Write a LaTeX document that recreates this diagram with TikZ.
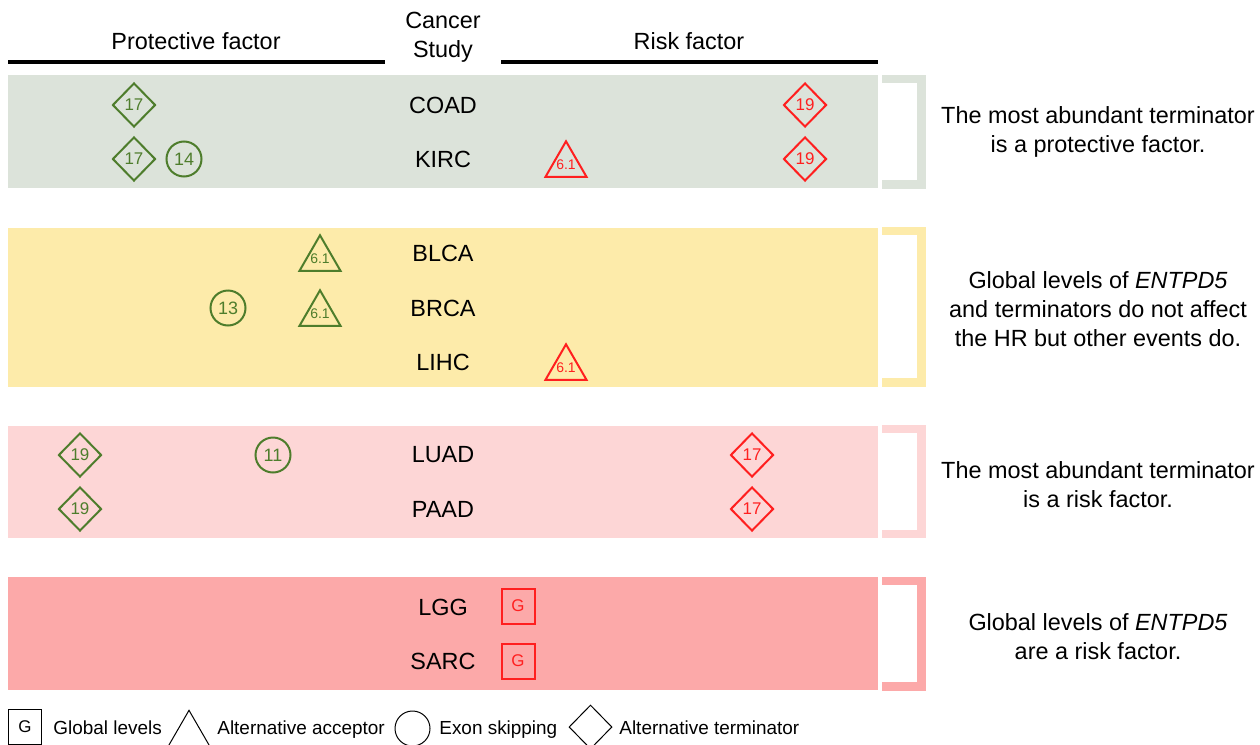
\documentclass[tikz,border=0pt]{standalone}
\usepackage{fontspec}
\setmainfont{Liberation Sans}
\usepackage{tikz}
\usetikzlibrary{shapes.geometric}
\definecolor{bandgreen}{HTML}{DCE3DA}
\definecolor{bandyellow}{HTML}{FDEBAA}
\definecolor{bandpink}{HTML}{FDD6D6}
\definecolor{bandsalmon}{HTML}{FCA9A9}
\definecolor{protgreen}{HTML}{4E7D2C}
\definecolor{riskred}{HTML}{FF1F1F}
% text that does not widen the triangles
\newcommand{\acclab}[1]{\smash{\makebox[0pt]{\raisebox{-0.5\height}{#1}}}}
\tikzset{
  every node/.style={font=\fontsize{11.75}{14.5}\selectfont},
  termshape/.style={diamond, draw, line width=1bp, inner sep=0pt, minimum width=21.5bp, minimum height=22bp, font=\fontsize{8.5}{10}\selectfont},
  skipshape/.style={circle, draw, line width=1bp, inner sep=0pt, minimum size=17.5bp, font=\fontsize{9}{10}\selectfont},
  accshape/.style={regular polygon, regular polygon sides=3, draw, line width=1bp, inner sep=0pt, minimum size=23.7bp, font=\fontsize{7}{8}\selectfont},
  globshape/.style={rectangle, draw, line width=1bp, inner sep=0pt, minimum width=16.5bp, minimum height=17.5bp, font=\fontsize{8.5}{10}\selectfont},
  prot/.style={draw=protgreen, text=protgreen},
  risk/.style={draw=riskred, text=riskred},
  legshape/.style={draw=black, text=black, line width=0.5bp},
  legtext/.style={anchor=base west, inner sep=0pt, font=\fontsize{9.5}{11}\selectfont},
  note/.style={align=center},
}
\begin{document}
\begin{tikzpicture}[x=0.5bp, y=-0.5bp]
      \def\cx{443}
      \def\bl{8}
      \def\br{878}
      \clip[use as bounding box] (0,0) rectangle (1260,744);
      % Draw the bands
      \fill[bandgreen] (\bl,75) rectangle (\br,188);
      \fill[bandyellow] (\bl,228) rectangle (\br,387);
      \fill[bandpink] (\bl,426) rectangle (\br,538);
      \fill[bandsalmon] (\bl,577) rectangle (\br,690);
      % Draw the brackets
      \fill[bandgreen] (882,75) rectangle (926,189);
      \fill[white] (882,83) rectangle (917,180);
      \fill[bandyellow] (882,227) rectangle (926,387);
      \fill[white] (882,235) rectangle (917,378);
      \fill[bandpink] (882,425) rectangle (926,538);
      \fill[white] (882,433) rectangle (917,530);
      \fill[bandsalmon] (882,577) rectangle (926,691);
      \fill[white] (882,585) rectangle (917,682);
      % Headers
      \node (prot) at (196,41) {Protective factor};
      \node[note] (study) at (\cx,37) {Cancer\\Study};
      \node (risk) at (689,41) {Risk factor};
      \draw[line width=2bp] (\bl,62) -- (385,62);
      \draw[line width=2bp] (501,62) -- (\br,62);
      % Cancer studies
      \node (coad) at (\cx,105) {COAD};
      \node (kirc) at (\cx,159) {KIRC};
      \node (blca) at (\cx,253) {BLCA};
      \node (brca) at (\cx,308) {BRCA};
      \node (lihc) at (\cx,362) {LIHC};
      \node (luad) at (\cx,455) {LUAD};
      \node (paad) at (\cx,509) {PAAD};
      \node (lgg) at (\cx,607) {LGG};
      \node (sarc) at (\cx,661) {SARC};
      % Events
      \node[termshape, prot] (coad-t) at (134,105) {17};
      \node[termshape, risk] (coad-r) at (805,105) {19};
      \node[termshape, prot] (kirc-t) at (134,159) {17};
      \node[skipshape, prot] (kirc-s) at (184,159) {14};
      \node[accshape, risk] (kirc-a) at (566,165) {\acclab{6.1}};
      \node[termshape, risk] (kirc-r) at (805,159) {19};
      \node[accshape, prot] (blca-a) at (320,259) {\acclab{6.1}};
      \node[skipshape, prot] (brca-s) at (228,308) {13};
      \node[accshape, prot] (brca-a) at (320,314) {\acclab{6.1}};
      \node[accshape, risk] (lihc-a) at (566,368) {\acclab{6.1}};
      \node[termshape, prot] (luad-t) at (80,455) {19};
      \node[skipshape, prot] (luad-s) at (273,455) {11};
      \node[termshape, risk] (luad-r) at (752,455) {17};
      \node[termshape, prot] (paad-t) at (80,509) {19};
      \node[termshape, risk] (paad-r) at (752,509) {17};
      \node[globshape, risk] (lgg-g) at (518,606) {G};
      \node[globshape, risk] (sarc-g) at (518,661) {G};
      % Notes
      \node[note] (note1) at (1098,132) {The most abundant terminator\\is a protective factor.};
      \node[note] (note2) at (1098,309) {Global levels of \textit{ENTPD5}\\and terminators do not affect\\the HR but other events do.};
      \node[note] (note3) at (1098,485) {The most abundant terminator\\is a risk factor.};
      \node[note] (note4) at (1098,637) {Global levels of \textit{ENTPD5}\\are a risk factor.};
      % Legend
      \node[globshape, legshape] (leg-g) at (25,727) {G};
      \node[legtext] (leg-gt) at (53,734) {Global levels};
      \node[accshape, legshape] (leg-a) at (189,734) {};
      \node[legtext] (leg-at) at (217,734) {Alternative acceptor};
      \node[skipshape, legshape] (leg-s) at (412.5,728.5) {};
      \node[legtext] (leg-st) at (439,734) {Exon skipping};
      \node[termshape, legshape] (leg-t) at (590.5,727) {};
      \node[legtext] (leg-tt) at (619,734) {Alternative terminator};
\end{tikzpicture}
\end{document}
